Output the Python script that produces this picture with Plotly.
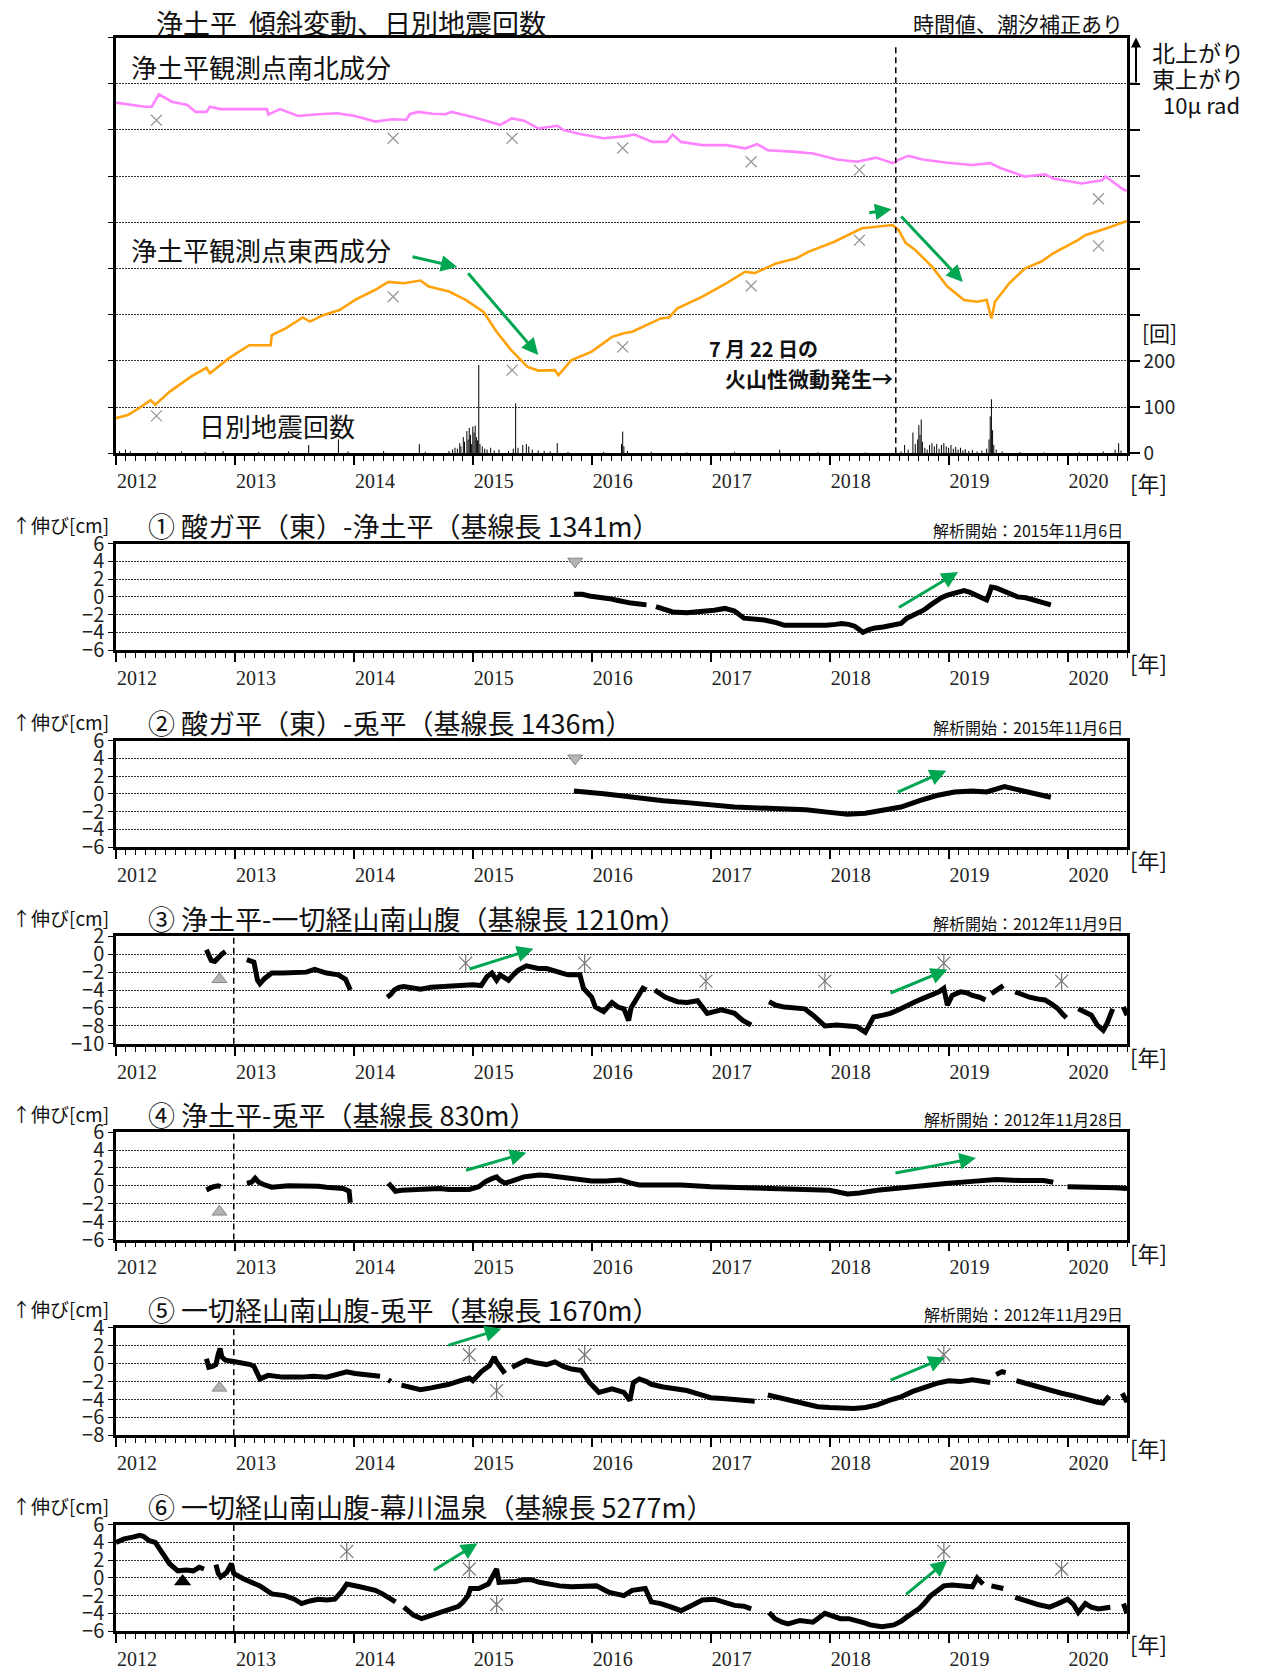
import plotly.graph_objects as go

W, H = 1263, 1669
X0, X1 = 2012.0, 2020.5
YEARS = list(range(2012, 2021))

# ---------------- 浄土平 傾斜 (μrad, 10 μrad / division) ----------------
ns_t = [2012.00, 2012.24, 2012.30, 2012.36, 2012.47, 2012.60, 2012.67, 2012.76, 2012.79, 2012.88,
        2013.08, 2013.27, 2013.28, 2013.38, 2013.53, 2013.70, 2013.86, 2014.01, 2014.18, 2014.32,
        2014.44, 2014.47, 2014.54, 2014.66, 2014.77, 2014.82, 2015.00, 2015.23, 2015.33, 2015.43,
        2015.55, 2015.71, 2015.76, 2015.90, 2016.10, 2016.27, 2016.36, 2016.51, 2016.63, 2016.68,
        2016.75, 2016.93, 2017.13, 2017.29, 2017.39, 2017.48, 2017.69, 2017.86, 2018.06, 2018.23,
        2018.39, 2018.53, 2018.58, 2018.66, 2018.78, 2018.99, 2019.20, 2019.35, 2019.44, 2019.64,
        2019.81, 2019.88, 2020.12, 2020.29, 2020.32, 2020.36, 2020.47, 2020.50]
ns_tilt = [75.9, 75.0, 75.0, 77.7, 76.1, 75.4, 73.9, 73.9, 75.0, 74.5,
           74.5, 74.5, 73.3, 74.5, 73.0, 73.4, 73.6, 73.0, 71.8, 72.3,
           72.2, 73.4, 73.9, 73.5, 73.4, 73.9, 72.8, 71.1, 72.5, 72.0,
           70.3, 70.9, 70.0, 69.1, 68.2, 68.6, 69.0, 67.4, 67.4, 69.0,
           67.4, 66.7, 66.7, 66.0, 66.9, 65.6, 65.3, 64.9, 63.6, 63.1,
           64.0, 62.8, 63.5, 64.4, 63.6, 62.9, 62.4, 62.8, 61.7, 59.9,
           60.4, 59.5, 58.4, 59.1, 59.9, 59.1, 57.1, 56.8]

ew_t = [2012.00, 2012.10, 2012.19, 2012.29, 2012.33, 2012.45, 2012.63, 2012.76, 2012.79, 2012.95,
        2013.12, 2013.30, 2013.31, 2013.43, 2013.57, 2013.63, 2013.74, 2013.88, 2014.01, 2014.18,
        2014.29, 2014.42, 2014.56, 2014.63, 2014.80, 2014.94, 2015.09, 2015.20, 2015.32, 2015.46,
        2015.55, 2015.69, 2015.72, 2015.83, 2016.00, 2016.17, 2016.27, 2016.34, 2016.58, 2016.65,
        2016.72, 2016.93, 2017.13, 2017.29, 2017.37, 2017.55, 2017.72, 2017.82, 2018.04, 2018.27,
        2018.37, 2018.53, 2018.58, 2018.64, 2018.72, 2018.86, 2018.99, 2019.13, 2019.24, 2019.32,
        2019.36, 2019.39, 2019.51, 2019.64, 2019.78, 2019.88, 2020.09, 2020.15, 2020.36, 2020.50]
ew_tilt = [7.6, 8.3, 9.7, 11.5, 10.5, 13.3, 16.6, 18.5, 17.3, 20.6,
           23.4, 23.4, 25.6, 27.1, 29.4, 28.5, 29.9, 31.0, 33.2, 35.4,
           37.1, 36.8, 37.4, 36.1, 35.0, 33.2, 30.6, 26.3, 22.4, 18.7,
           17.9, 18.0, 16.9, 20.2, 22.0, 25.2, 26.0, 26.3, 29.2, 29.4,
           31.4, 33.9, 36.8, 39.3, 39.0, 41.1, 42.2, 43.6, 45.8, 48.7,
           49.0, 49.4, 48.3, 45.5, 44.0, 40.4, 36.1, 33.2, 32.8, 33.2,
           29.2, 32.8, 36.8, 40.0, 41.5, 43.3, 46.2, 47.2, 49.0, 50.3]

# 点検時の値 (×)
chk_t = [2012.34, 2014.33, 2015.33, 2016.26, 2017.34, 2018.25, 2020.26]
chk_ns = [72.1, 68.2, 68.2, 66.1, 63.1, 61.3, 55.1]
chk_ew = [8.1, 33.9, 18.0, 23.0, 36.2, 46.1, 44.9]

# 日別地震回数
eq_t = [2012.03, 2012.08, 2012.12, 2012.35, 2012.55, 2012.75, 2012.90,
        2013.20, 2013.45, 2013.62, 2013.87, 2013.95,
        2014.25, 2014.55, 2014.60, 2014.80, 2014.83, 2014.85, 2014.87, 2014.89, 2014.90,
        2014.92, 2014.93, 2014.95, 2014.96, 2014.97, 2014.98, 2014.99, 2015.00, 2015.01,
        2015.02, 2015.03, 2015.04, 2015.05, 2015.06, 2015.08, 2015.10, 2015.12, 2015.15,
        2015.18, 2015.22, 2015.30, 2015.34, 2015.36, 2015.38, 2015.42, 2015.45, 2015.47,
        2015.50, 2015.55, 2015.60, 2015.65, 2015.71, 2015.80,
        2016.10, 2016.25, 2016.26, 2016.27, 2016.30, 2016.50, 2016.80,
        2017.20, 2017.58, 2017.90,
        2018.30, 2018.60, 2018.63, 2018.66, 2018.70, 2018.72, 2018.74, 2018.75, 2018.76,
        2018.77, 2018.78, 2018.80, 2018.82, 2018.84, 2018.86, 2018.88, 2018.90, 2018.92,
        2018.94, 2018.96, 2018.98, 2019.00, 2019.02, 2019.04, 2019.06, 2019.08, 2019.10,
        2019.12, 2019.14, 2019.17, 2019.20, 2019.24, 2019.28, 2019.32, 2019.34, 2019.35,
        2019.36, 2019.37, 2019.38, 2019.40, 2019.45, 2019.60, 2019.80,
        2020.10, 2020.30, 2020.40, 2020.43, 2020.45]
eq_n = [5, 8, 4, 3, 4, 3, 5,
        3, 4, 18, 30, 4,
        5, 20, 3, 5, 8, 12, 10, 22, 15,
        35, 25, 48, 30, 55, 40, 20, 58, 45,
        60, 35, 28, 191, 20, 15, 10, 8, 12,
        6, 8, 5, 10, 108, 12, 18, 20, 15,
        8, 6, 5, 4, 22, 3,
        3, 20, 47, 15, 5, 3, 2,
        3, 8, 2,
        2, 4, 18, 8, 45, 20, 30, 61, 40,
        73, 25, 12, 8, 18, 22, 15, 20, 10,
        18, 22, 15, 12, 18, 10, 14, 8, 12,
        6, 9, 5, 7, 4, 6, 10, 30, 80,
        117, 50, 18, 8, 4, 3, 2,
        2, 4, 8, 22, 6]

TREMOR_2018 = 2018.556   # 2018年7月22日
MARK_2012 = 2012.99

# ---------------- GNSS 基線長変化 (cm) ----------------
bl1_t = [2015.85, 2015.92, 2015.98, 2016.06, 2016.15, 2016.22, 2016.27, 2016.33, 2016.40, 2016.46, None,
         2016.54, 2016.60, 2016.68, 2016.80, 2016.93, 2017.03, 2017.12, 2017.20, 2017.28, 2017.36,
         2017.45, 2017.55, 2017.62, 2017.70, 2017.80, 2017.90, 2017.97, 2018.05, 2018.10, 2018.16,
         2018.21, 2018.26, 2018.28, 2018.33, 2018.38, 2018.45, 2018.55, 2018.60, 2018.65, 2018.72,
         2018.79, 2018.85, 2018.89, 2018.94, 2018.99, 2019.06, 2019.13, 2019.18, 2019.24, 2019.29,
         2019.32, 2019.34, 2019.36, 2019.40, 2019.44, 2019.50, 2019.58, 2019.65, 2019.72, 2019.80, 2019.86]
bl1_cm = [0.3, 0.3, 0.1, 0.0, -0.2, -0.4, -0.6, -0.7, -0.8, -0.9, None,
          -1.1, -1.4, -1.7, -1.8, -1.7, -1.5, -1.3, -1.6, -2.4, -2.5,
          -2.6, -2.9, -3.2, -3.2, -3.2, -3.3, -3.2, -3.1, -3.0, -3.1,
          -3.3, -3.8, -4.0, -3.7, -3.5, -3.4, -3.2, -3.0, -2.4, -2.0,
          -1.5, -0.9, -0.5, -0.1, 0.2, 0.5, 0.7, 0.5, 0.2, -0.1,
          -0.35, 0.3, 1.1, 1.0, 0.8, 0.5, 0.0, -0.1, -0.35, -0.6, -0.9]

bl2_t = [2015.85, 2015.95, 2016.10, 2016.30, 2016.45, 2016.60, 2016.80, 2017.00, 2017.20, 2017.40,
         2017.60, 2017.80, 2018.00, 2018.15, 2018.30, 2018.45, 2018.60, 2018.75, 2018.90, 2019.05,
         2019.20, 2019.32, 2019.40, 2019.47, 2019.60, 2019.75, 2019.86]
bl2_cm = [0.3, 0.2, 0.0, -0.3, -0.6, -0.8, -1.0, -1.3, -1.5, -1.6,
          -1.7, -1.8, -2.1, -2.3, -2.2, -1.9, -1.5, -0.8, -0.2, 0.2,
          0.3, 0.2, 0.6, 0.8, 0.4, 0.0, -0.4]

bl3_t = [2012.76, 2012.78, 2012.80, 2012.83, 2012.86, 2012.89, 2012.92, None,
         2013.10, 2013.16, 2013.19, 2013.21, 2013.25, 2013.31, 2013.40, 2013.50, 2013.60, 2013.67,
         2013.77, 2013.87, 2013.93, 2013.97, None,
         2014.28, 2014.31, 2014.34, 2014.38, 2014.42, 2014.50, 2014.56, 2014.65, 2014.73, 2014.82,
         2014.90, 2015.00, 2015.07, 2015.10, 2015.12, 2015.16, 2015.20, 2015.23, 2015.27, 2015.30,
         2015.34, 2015.38, 2015.45, 2015.55, 2015.62, 2015.69, 2015.75, 2015.80, 2015.87, 2015.90,
         2015.93, 2015.97, 2016.00, 2016.03, 2016.10, 2016.17, 2016.22, 2016.27, 2016.31, 2016.33,
         2016.37, 2016.41, 2016.43, 2016.46, None,
         2016.53, 2016.62, 2016.72, 2016.80, 2016.89, 2016.93, 2016.97, 2017.03, 2017.09, 2017.15,
         2017.20, 2017.27, 2017.34, None,
         2017.49, 2017.55, 2017.62, 2017.70, 2017.79, 2017.86, 2017.92, 2017.96, 2018.06, 2018.15,
         2018.23, 2018.30, 2018.34, 2018.37, 2018.45, 2018.51, 2018.58, 2018.65, 2018.72, 2018.79,
         2018.86, 2018.92, 2018.96, 2018.99, 2019.03, 2019.10, 2019.15, 2019.20, 2019.26, 2019.31, None,
         2019.36, 2019.41, 2019.46, None,
         2019.56, 2019.62, 2019.68, 2019.75, 2019.81, 2019.87, 2019.92, 2019.96, 2019.99, None,
         2020.09, 2020.15, 2020.20, 2020.25, 2020.30, 2020.33, 2020.35, 2020.38, None,
         2020.47, 2020.50]
bl3_cm = [0.5, -0.3, -0.7, -0.8, -0.3, 0.0, 0.3, None,
          -0.6, -0.9, -2.9, -3.3, -2.7, -2.1, -2.1, -2.1, -2.0, -1.7,
          -2.1, -2.3, -2.8, -4.0, None,
          -4.8, -4.5, -4.0, -3.7, -3.6, -3.8, -3.9, -3.7, -3.6, -3.5,
          -3.5, -3.4, -3.5, -2.8, -2.5, -2.1, -2.9, -2.3, -2.6, -2.9,
          -2.3, -1.8, -1.3, -1.6, -1.6, -1.8, -2.1, -2.3, -2.3, -2.3,
          -3.8, -4.5, -4.8, -5.9, -6.4, -5.4, -5.9, -6.1, -7.4, -6.0,
          -5.1, -4.0, -3.8, -4.0, None,
          -4.0, -4.8, -5.3, -5.4, -5.2, -5.8, -6.6, -6.4, -6.2, -6.4,
          -6.6, -7.4, -7.9, None,
          -5.3, -5.7, -5.9, -6.0, -6.1, -6.8, -7.6, -8.0, -7.9, -8.0,
          -8.1, -8.7, -7.6, -7.0, -6.8, -6.6, -6.2, -5.7, -5.3, -4.9,
          -4.5, -4.2, -3.8, -5.7, -4.6, -4.2, -4.3, -4.6, -4.8, -5.1, None,
          -4.4, -4.0, -3.5, None,
          -4.2, -4.5, -4.8, -5.0, -5.1, -5.6, -6.1, -6.7, -7.1, None,
          -6.1, -6.5, -6.8, -7.9, -8.5, -7.8, -7.2, -6.1, None,
          -5.9, -6.8]

bl4_t = [2012.76, 2012.79, 2012.82, 2012.86, 2012.88, None,
         2013.10, 2013.14, 2013.17, 2013.20, 2013.25, 2013.31, 2013.45, 2013.60, 2013.70, 2013.77,
         2013.86, 2013.91, 2013.96, 2013.97, None,
         2014.29, 2014.32, 2014.35, 2014.40, 2014.46, 2014.55, 2014.63, 2014.72, 2014.80, 2014.90,
         2014.97, 2015.05, 2015.11, 2015.16, 2015.20, 2015.23, 2015.27, 2015.32, 2015.37, 2015.43,
         2015.49, 2015.56, 2015.63, 2015.72, 2015.83, 2015.92, 2016.00, 2016.12, 2016.24, 2016.33,
         2016.40, 2016.50, 2016.75, 2017.00, 2017.25, 2017.50, 2017.75, 2018.00, 2018.15, 2018.25,
         2018.40, 2018.60, 2018.80, 2019.00, 2019.20, 2019.40, 2019.60, 2019.80, 2019.88, None,
         2020.00, 2020.20, 2020.40, 2020.50]
bl4_cm = [-0.45, -0.2, -0.1, 0.0, -0.1, None,
          0.3, 0.4, 0.85, 0.4, 0.1, -0.15, 0.0, 0.05, -0.05, -0.15,
          -0.2, -0.3, -0.6, -1.9, None,
          0.3, -0.2, -0.6, -0.5, -0.45, -0.35, -0.25, -0.3, -0.4, -0.35,
          -0.4, -0.1, 0.5, 0.8, 1.0, 0.6, 0.3, 0.5, 0.75, 1.0,
          1.1, 1.2, 1.15, 1.0, 0.85, 0.7, 0.55, 0.55, 0.65, 0.3,
          0.1, 0.1, 0.1, -0.1, -0.2, -0.3, -0.4, -0.5, -0.9, -0.8,
          -0.5, -0.2, 0.1, 0.3, 0.5, 0.7, 0.6, 0.6, 0.4, None,
          -0.1, -0.1, -0.2, -0.3]

bl5_t = [2012.76, 2012.78, 2012.81, 2012.84, 2012.86, 2012.875, 2012.89, 2012.92, 2012.99, 2013.06,
         2013.13, 2013.16, 2013.19, 2013.21, 2013.28, 2013.40, 2013.56, 2013.66, 2013.77, 2013.87,
         2013.94, 2014.01, 2014.11, 2014.22, None,
         2014.29, 2014.31, None,
         2014.40, 2014.48, 2014.56, 2014.65, 2014.73, 2014.80, 2014.87, 2014.93, 2014.97, 2015.00,
         2015.07, 2015.14, 2015.18, 2015.20, 2015.24, 2015.27, None,
         2015.33, 2015.38, 2015.45, 2015.53, 2015.62, 2015.69, 2015.76, 2015.83, 2015.91, 2015.95,
         2015.98, 2016.06, 2016.17, 2016.27, 2016.32, 2016.35, 2016.40, 2016.46, 2016.50, 2016.60,
         2016.70, 2016.80, 2016.90, 2017.00, 2017.10, 2017.20, 2017.30, 2017.37, None,
         2017.48, 2017.60, 2017.70, 2017.80, 2017.90, 2018.00, 2018.10, 2018.20, 2018.30, 2018.40,
         2018.50, 2018.60, 2018.70, 2018.80, 2018.90, 2019.00, 2019.10, 2019.20, 2019.30, 2019.35, None,
         2019.40, 2019.45, 2019.48, None,
         2019.57, 2019.65, 2019.75, 2019.85, 2019.95, 2020.05, 2020.15, 2020.25, 2020.30, 2020.35, None,
         2020.46, 2020.50]
bl5_cm = [0.55, -0.4, -0.3, -0.1, 1.1, 1.7, 0.75, 0.4, 0.25, 0.1,
          -0.1, -0.3, -1.3, -1.7, -1.3, -1.5, -1.5, -1.4, -1.5, -1.2,
          -0.9, -1.1, -1.3, -1.4, None,
          -1.8, -2.0, None,
          -2.4, -2.7, -2.9, -2.7, -2.5, -2.3, -2.0, -1.7, -1.6, -1.9,
          -0.9, -0.2, 0.75, 0.2, -0.6, -1.1, None,
          -0.4, 0.0, 0.4, 0.1, -0.1, 0.2, -0.3, -0.6, -0.75, -1.5,
          -2.1, -3.2, -2.8, -3.2, -4.1, -2.1, -1.7, -2.0, -2.3, -2.6,
          -2.8, -3.0, -3.4, -3.8, -3.9, -4.0, -4.0, -4.2, None,
          -3.5, -3.9, -4.2, -4.5, -4.8, -4.9, -5.0, -5.0, -4.9, -4.6,
          -4.1, -3.7, -3.1, -2.6, -2.2, -1.9, -2.0, -1.8, -2.0, -2.1, None,
          -1.2, -0.9, -1.0, None,
          -1.9, -2.2, -2.5, -3.0, -3.3, -3.6, -4.0, -4.3, -4.4, -3.6, None,
          -3.3, -4.3]

bl6_t = [2012.00, 2012.07, 2012.14, 2012.20, 2012.23, 2012.28, 2012.33, 2012.38, 2012.45, 2012.52,
         2012.59, 2012.65, 2012.70, 2012.74, None,
         2012.84, 2012.86, 2012.88, 2012.93, 2012.97, 2012.99, 2013.07, 2013.14, 2013.21, 2013.31,
         2013.42, 2013.50, 2013.56, 2013.63, 2013.70, 2013.77, 2013.84, 2013.90, 2013.94, 2014.05,
         2014.18, 2014.24, 2014.29, 2014.35, None,
         2014.42, 2014.50, 2014.57, 2014.68, 2014.76, 2014.82, 2014.88, 2014.92, 2014.96, 2014.98,
         2015.05, 2015.13, 2015.17, 2015.20, 2015.22, 2015.30, 2015.36, 2015.43, 2015.49, 2015.56,
         2015.63, 2015.73, 2015.83, 2015.93, 2016.04, 2016.14, 2016.22, 2016.27, 2016.34, 2016.40,
         2016.45, 2016.50, 2016.58, 2016.67, 2016.75, 2016.84, 2016.93, 2017.03, 2017.12, 2017.20,
         2017.28, 2017.34, None,
         2017.49, 2017.54, 2017.60, 2017.65, 2017.75, 2017.86, 2017.96, 2018.03, 2018.09, 2018.16,
         2018.23, 2018.30, 2018.34, 2018.44, 2018.54, 2018.60, 2018.65, 2018.75, 2018.80, 2018.85,
         2018.92, 2018.96, 2019.03, 2019.10, 2019.15, 2019.20, 2019.24, 2019.29, None,
         2019.36, 2019.42, 2019.46, None,
         2019.56, 2019.62, 2019.68, 2019.75, 2019.85, 2019.92, 2020.00, 2020.05, 2020.09, 2020.15,
         2020.20, 2020.26, 2020.31, 2020.36, None,
         2020.47, 2020.50]
bl6_cm = [4.0, 4.4, 4.6, 4.8, 4.7, 4.2, 4.0, 2.9, 1.6, 0.8,
          0.9, 0.8, 1.2, 1.0, None,
          1.5, 0.5, 0.1, 0.6, 1.6, 0.5, -0.1, -0.5, -0.9, -1.8,
          -2.0, -2.4, -2.9, -2.6, -2.4, -2.5, -2.4, -1.5, -0.7, -1.0,
          -1.4, -1.8, -2.2, -2.7, None,
          -3.3, -4.2, -4.6, -4.1, -3.8, -3.6, -3.2, -2.7, -2.0, -1.2,
          -1.2, -0.7, 0.45, 1.0, -0.5, -0.5, -0.4, -0.2, -0.2, -0.5,
          -0.7, -0.9, -1.0, -1.0, -0.9, -1.6, -1.9, -2.0, -1.4, -1.3,
          -1.2, -2.7, -2.9, -3.3, -3.7, -3.1, -2.5, -2.4, -2.8, -3.1,
          -3.2, -3.5, None,
          -3.9, -4.6, -5.0, -5.2, -4.8, -5.0, -4.0, -4.4, -4.6, -4.6,
          -4.8, -5.1, -5.3, -5.5, -5.3, -4.9, -4.4, -3.5, -2.8, -2.0,
          -1.3, -0.9, -0.8, -0.9, -0.9, -1.0, 0.0, -0.7, None,
          -0.9, -1.0, -1.2, None,
          -2.2, -2.4, -2.7, -3.0, -3.3, -2.9, -2.4, -3.0, -3.9, -2.9,
          -3.3, -3.5, -3.4, -3.3, None,
          -2.9, -4.0]

# 基線ごとの表示設定
baselines = [
    dict(t=bl1_t, v=bl1_cm, rng=(-6, 6),
         title="① 酸ガ平（東）-浄土平（基線長 1341m）", start="解析開始：2015年11月6日",
         arrows=[(2018.57, -1.3, 2019.08, 2.8)]),
    dict(t=bl2_t, v=bl2_cm, rng=(-6, 6),
         title="② 酸ガ平（東）-兎平（基線長 1436m）", start="解析開始：2015年11月6日",
         arrows=[(2018.56, 0.1, 2018.98, 2.6)]),
    dict(t=bl3_t, v=bl3_cm, rng=(-10, 2),
         title="③ 浄土平-一切経山南山腹（基線長 1210m）", start="解析開始：2012年11月9日",
         arrows=[(2014.96, -1.7, 2015.51, 0.6), (2018.50, -4.4, 2018.99, -1.7)]),
    dict(t=bl4_t, v=bl4_cm, rng=(-6, 6),
         title="④ 浄土平-兎平（基線長 830m）", start="解析開始：2012年11月28日",
         arrows=[(2014.93, 1.7, 2015.45, 3.7), (2018.54, 1.4, 2019.23, 3.1)]),
    dict(t=bl5_t, v=bl5_cm, rng=(-8, 4),
         title="⑤ 一切経山南山腹-兎平（基線長 1670m）", start="解析開始：2012年11月29日",
         arrows=[(2014.78, 2.0, 2015.24, 3.9), (2018.50, -1.9, 2018.97, 0.7)]),
    dict(t=bl6_t, v=bl6_cm, rng=(-6, 6),
         title="⑥ 一切経山南山腹-幕川温泉（基線長 5277m）", start="",
         arrows=[(2014.66, 0.75, 2015.04, 3.9), (2018.63, -2.0, 2018.99, 2.0)]),
]

# 機器関連の記号
tri_down = {0: (2015.86, 4.0), 1: (2015.86, 4.0)}
tri_up = {2: (2012.87, -2.8), 3: (2012.87, -2.9), 4: (2012.87, -2.7)}
tri_black = {5: (2012.56, -0.4)}
asterisks = {
    2: ([2014.94, 2015.94, 2016.96, 2017.96, 2018.96, 2019.95], [-1, -1, -3, -3, -1, -3]),
    4: ([2014.97, 2015.20, 2015.94, 2018.96], [1, -3, 1, 1]),
    5: ([2013.94, 2014.97, 2015.20, 2018.96, 2019.95], [3, 1, -3, 3, 1]),
}
tilt_arrows = [(2014.48, 42.6, 2014.87, 40.3), (2014.95, 39.3, 2015.55, 21.3),
               (2018.32, 52.0, 2018.52, 52.8), (2018.59, 51.6, 2019.12, 37.1)]

# ---------------- layout helpers ----------------
JP = "Noto Sans CJK JP"
SERIF = "Liberation Serif"
GREEN = "#00a651"
X_L, X_R = 116, 1127
TOP_FRAME = (37.5, 453.3)
FRAMES = [(543.7, 650.1), (740.5, 847.0), (936.3, 1043.8),
          (1132.1, 1239.6), (1327.9, 1435.3), (1524.7, 1631.1)]


def py(p):
    return 1 - p / H


def px(p):
    return p / W


xdom = [px(X_L), px(X_R)]


def xaxis_style(anchor):
    return dict(domain=xdom, anchor=anchor, range=[X0, X1], tickmode="array",
                tickvals=YEARS, ticktext=[str(y) for y in YEARS],
                ticks="outside", ticklen=9, tickwidth=1.5, tickcolor="black",
                minor=dict(tick0=X0, dtick=1 / 12, ticks="outside", ticklen=5,
                           tickwidth=1, tickcolor="black"),
                showline=True, linewidth=2.5, linecolor="black", mirror=True,
                showgrid=False, zeroline=False, automargin=False,
                tickfont=dict(family=SERIF, size=20, color="#222"),
                ticklabelshift=21, ticklabelstandoff=-1)


grid = dict(showgrid=True, gridcolor="#333", griddash="1.5px,1.5px", gridwidth=1)

fig = go.Figure()
layout = dict(width=W, height=H, margin=dict(l=0, r=0, t=0, b=0, autoexpand=False),
              paper_bgcolor="white", plot_bgcolor="white", showlegend=False)

# ---- top panel: tilt + daily earthquakes ----
layout["xaxis"] = xaxis_style("y")
layout["yaxis"] = dict(domain=[py(TOP_FRAME[1]), py(TOP_FRAME[0])], anchor="x",
                       range=[0, 90], dtick=10, showticklabels=False,
                       ticks="outside", ticklen=5, tickcolor="black",
                       showline=True, linewidth=2.5, linecolor="black", mirror=True,
                       zeroline=False, automargin=False, **grid)
count_ticks = list(range(0, 900, 100))
layout["yaxis2"] = dict(overlaying="y", anchor="x", side="right", range=[0, 900],
                        tickmode="array", tickvals=count_ticks,
                        ticktext=[str(c) if c <= 200 else "" for c in count_ticks],
                        ticks="outside", ticklen=10, tickcolor="black", tickwidth=1.5,
                        showline=True, linewidth=2.5, linecolor="black",
                        showgrid=False, zeroline=False, automargin=False,
                        tickfont=dict(family=JP, size=19, color="#222"))

fig.add_trace(go.Scatter(x=ns_t, y=ns_tilt, mode="lines", xaxis="x", yaxis="y",
                         line=dict(color="#ff82ff", width=2.6)))
fig.add_trace(go.Scatter(x=ew_t, y=ew_tilt, mode="lines", xaxis="x", yaxis="y",
                         line=dict(color="#ffa20a", width=2.6)))
fig.add_trace(go.Scatter(x=chk_t + chk_t, y=chk_ns + chk_ew, mode="markers", xaxis="x", yaxis="y",
                         marker=dict(symbol="x-thin-open", size=11, color="#999",
                                     line=dict(color="#999", width=1.3))))
stem_x, stem_y = [], []
for t, n in zip(eq_t, eq_n):
    stem_x += [t, t, None]
    stem_y += [0, n, None]
fig.add_trace(go.Scatter(x=stem_x, y=stem_y, mode="lines", xaxis="x", yaxis="y2",
                         line=dict(color="black", width=1)))

annotations = []
shapes = []


def text(x, y, s, size, anchor="left", family=JP, color="#111", bold=False):
    annotations.append(dict(x=px(x), y=py(y), xref="paper", yref="paper",
                            text=f"<b>{s}</b>" if bold else s,
                            showarrow=False, xanchor=anchor, yanchor="middle",
                            font=dict(family=family, size=size, color=color)))


text(154, 22, "浄土平  傾斜変動、日別地震回数", 27)
text(1125, 23, "時間値、潮汐補正あり", 21, anchor="right")
text(129, 67, "浄土平観測点南北成分", 26)
text(129, 249, "浄土平観測点東西成分", 26)
text(197, 425, "日別地震回数", 26)
text(707, 349, "7 月 22 日の", 20, bold=True)
text(895, 378, "火山性微動発生→", 21, anchor="right", bold=True)
text(1150, 52, "北上がり", 23)
text(1150, 78, "東上がり", 23)
text(1161, 104, "10μ rad", 22)
text(1140, 332, "[回]", 21)
text(1128, 482, "[年]", 22)

# 10 μrad scale bar on the right of the tilt frame
annotations.append(dict(x=px(1136), y=90, xref="paper", yref="y", ax=0, ay=80,
                        axref="pixel", ayref="y", showarrow=True, text="",
                        arrowhead=2, arrowsize=1, arrowwidth=2, arrowcolor="black", standoff=0))
shapes.append(dict(type="line", xref="paper", yref="y", x0=px(X_R), x1=px(1137), y0=80, y1=80,
                   line=dict(color="black", width=2)))
shapes.append(dict(type="line", xref="x", yref="y domain", x0=TREMOR_2018, x1=TREMOR_2018,
                   y0=0, y1=0.985, line=dict(color="black", width=1.5, dash="6px,4px")))

for (xa, ya, xh, yh) in tilt_arrows:
    annotations.append(dict(x=xh, y=yh, ax=xa, ay=ya, xref="x", yref="y", axref="x", ayref="y",
                            showarrow=True, text="", arrowhead=2, arrowsize=1.1, arrowwidth=3,
                            arrowcolor=GREEN, standoff=0))

# ---- GNSS baseline panels ----
for i, bl in enumerate(baselines):
    xa_name, ya_name = f"xaxis{i + 2}", f"yaxis{i + 3}"
    xr, yr = f"x{i + 2}", f"y{i + 3}"
    top, bot = FRAMES[i]
    lo, hi = bl["rng"]
    layout[xa_name] = xaxis_style(yr)
    layout[ya_name] = dict(domain=[py(bot), py(top)], anchor=xr, range=[lo, hi], dtick=2,
                           ticks="outside", ticklen=5, tickcolor="black",
                           showline=True, linewidth=2.5, linecolor="black", mirror=True,
                           zeroline=False, automargin=False,
                           tickfont=dict(family=JP, size=20, color="#222"), **grid)
    fig.add_trace(go.Scatter(x=bl["t"], y=bl["v"], mode="lines", xaxis=xr, yaxis=yr,
                             line=dict(color="black", width=5), connectgaps=False))
    if i in tri_down:
        tx, tv = tri_down[i]
        fig.add_trace(go.Scatter(x=[tx], y=[tv], mode="markers", xaxis=xr, yaxis=yr,
                                 marker=dict(symbol="triangle-down", size=13, color="#b4b4b4",
                                             line=dict(color="#888", width=1))))
    if i in tri_up:
        tx, tv = tri_up[i]
        fig.add_trace(go.Scatter(x=[tx], y=[tv], mode="markers", xaxis=xr, yaxis=yr,
                                 marker=dict(symbol="triangle-up", size=13, color="#b4b4b4",
                                             line=dict(color="#888", width=1))))
    if i in tri_black:
        tx, tv = tri_black[i]
        fig.add_trace(go.Scatter(x=[tx], y=[tv], mode="markers", xaxis=xr, yaxis=yr,
                                 marker=dict(symbol="triangle-up", size=15, color="black")))
    if i in asterisks:
        ax_t, ax_v = asterisks[i]
        for sym in ("x-thin-open", "line-ns-open"):
            fig.add_trace(go.Scatter(x=ax_t, y=ax_v, mode="markers", xaxis=xr, yaxis=yr,
                                     marker=dict(symbol=sym, size=13, color="#777",
                                                 line=dict(color="#777", width=1.2))))
    if i >= 2:
        shapes.append(dict(type="line", xref=xr, yref=f"{yr} domain", x0=MARK_2012, x1=MARK_2012,
                           y0=0, y1=1, line=dict(color="black", width=1.5, dash="6px,4px")))
    for (xa, ya, xh, yh) in bl["arrows"]:
        annotations.append(dict(x=xh, y=yh, ax=xa, ay=ya, xref=xr, yref=yr, axref=xr, ayref=yr,
                                showarrow=True, text="", arrowhead=2, arrowsize=1.1, arrowwidth=3,
                                arrowcolor=GREEN, standoff=0))
    text(10, top - 19, "↑伸び[cm]", 19)
    text(146, top - 18, bl["title"], 27)
    if bl["start"]:
        text(1125, top - 13.5, bl["start"], 16, anchor="right")
    text(1128, bot + 12, "[年]", 22)

layout["annotations"] = annotations
layout["shapes"] = shapes
fig.update_layout(**layout)
fig.write_html("out.html")
